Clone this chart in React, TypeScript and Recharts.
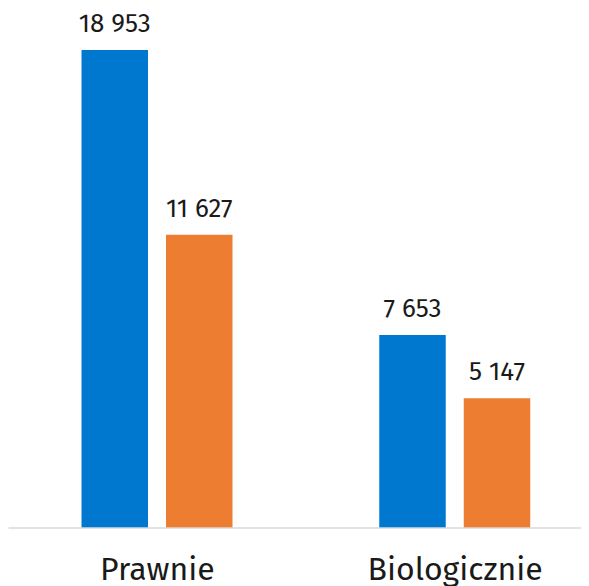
import React from 'react';
import { BarChart, Bar, XAxis, YAxis, LabelList } from 'recharts';

const categories = ['Prawnie', 'Biologicznie'];
const seriesA = [18953, 7653];
const seriesB = [11627, 5147];

const data = categories.map((c, i) => ({ name: c, a: seriesA[i], b: seriesB[i] }));

const fmt = (v: number) => String(v).replace(/\B(?=(\d{3})+(?!\d))/g, ' ');

const FONT = "'Fira Sans', 'Open Sans', sans-serif";

const CatTick = (props: any) => {
  const { x, y, payload } = props;
  return (
    <text x={x} y={y} dy={43.5} textAnchor="middle" fontFamily={FONT} fontSize={32} fill="#1a1a1a">
      {payload.value}
    </text>
  );
};

export default function App() {
  return (
    <div style={{ width: 581, height: 578, overflow: 'hidden' }}>
      <BarChart
        width={596}
        height={592}
        data={data}
        margin={{ top: 42, right: 0, bottom: 0, left: 0.5 }}
        barGap={18}
        barSize={66.5}
      >
        <YAxis hide domain={[0, 18953]} />
        <XAxis
          dataKey="name"
          axisLine={{ stroke: '#d9d9d9', strokeWidth: 1.5 }}
          tickLine={false}
          height={72}
          tick={<CatTick />}
          interval={0}
        />
        <Bar dataKey="a" fill="#0078cf" isAnimationActive={false}>
          <LabelList dataKey="a" position="top" offset={18} formatter={fmt} style={{ fontFamily: FONT, fontSize: 26, fill: '#1a1a1a' }} />
        </Bar>
        <Bar dataKey="b" fill="#ed7d31" isAnimationActive={false}>
          <LabelList dataKey="b" position="top" offset={18} formatter={fmt} style={{ fontFamily: FONT, fontSize: 26, fill: '#1a1a1a' }} />
        </Bar>
      </BarChart>
    </div>
  );
}
